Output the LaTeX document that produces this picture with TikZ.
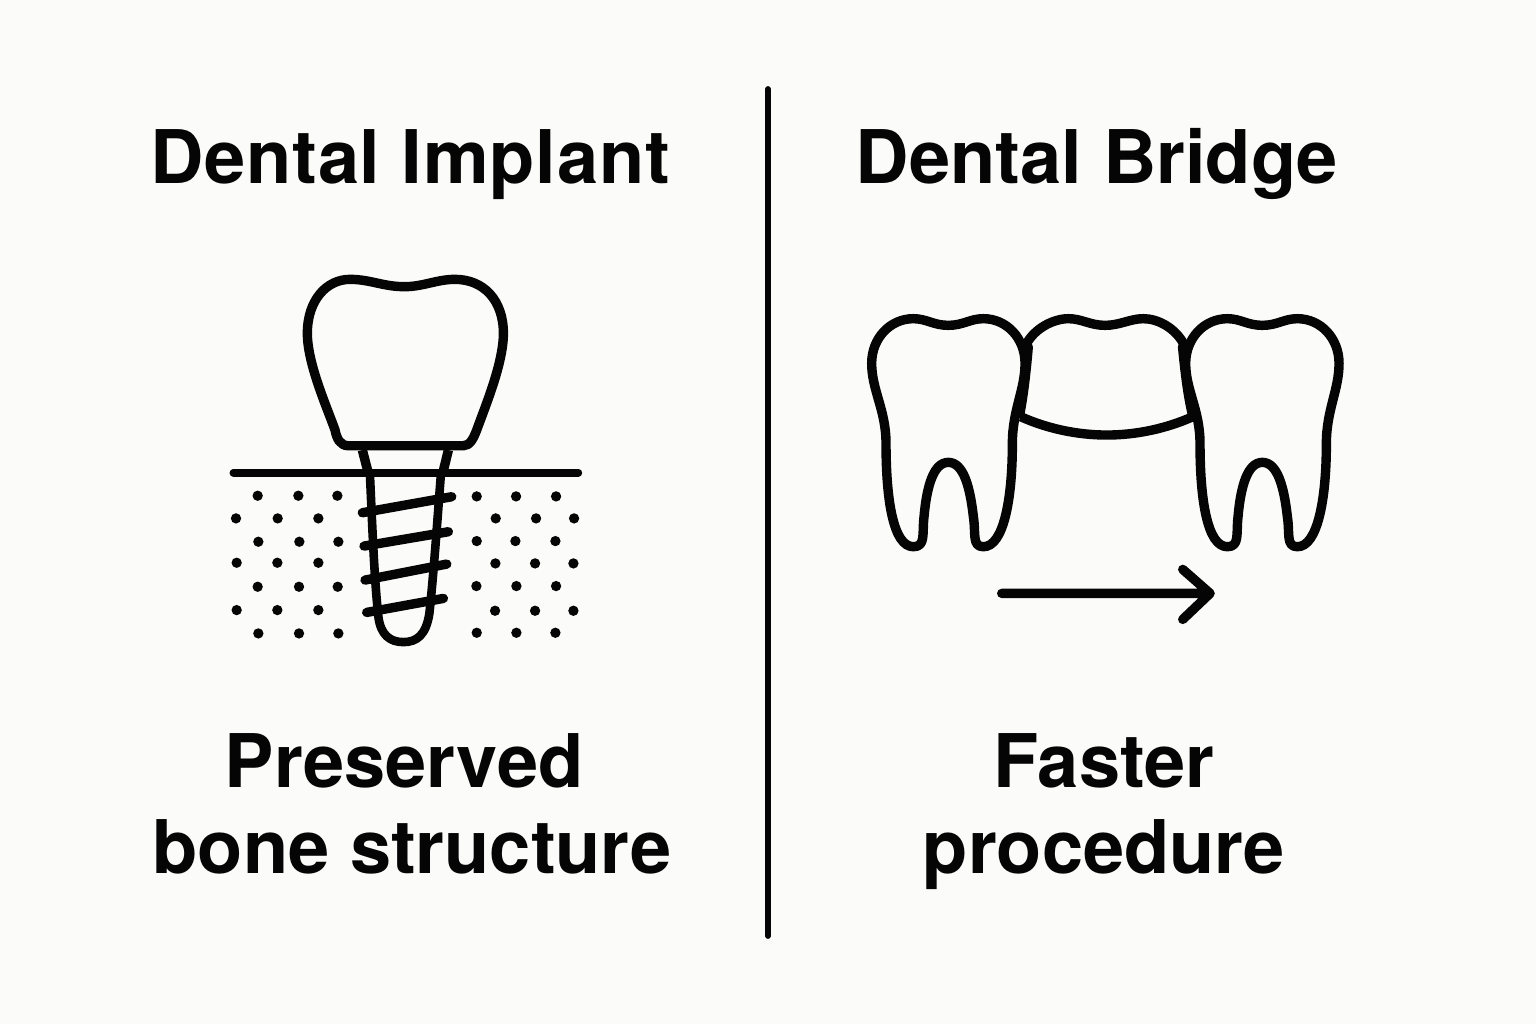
\documentclass[tikz,border=0pt]{standalone}
\usepackage{fontspec}
\setmainfont{TeX Gyre Heros}
\definecolor{paper}{HTML}{FBFBF9}
\definecolor{ink}{HTML}{050505}
\tikzset{
 lab/.style={text=ink,font=\fontsize{37}{44}\selectfont\bfseries,anchor=base,inner sep=0pt},
 outl/.style={draw=ink,line width=4.7pt,line join=round,line cap=round},
}
\newcommand{\dotrow}[2]{\foreach \xx in {#2}{\fill[ink] (\xx,#1) circle (15.5);}}
\newcommand{\toothpath}{(190,56) .. controls (230,56) and (250,76) .. (295,76) .. controls (340,76) and (360,56) .. (400,56) .. controls (470,56) and (525,115) .. (525,190) .. controls (525,270) and (487,330) .. (487,430) .. controls (487,600) and (460,740) .. (400,740) .. controls (365,740) and (378,700) .. (370,650) .. controls (360,560) and (340,487) .. (295,487) .. controls (250,487) and (230,560) .. (222,650) .. controls (216,700) and (228,740) .. (190,740) .. controls (130,740) and (108,600) .. (108,430) .. controls (108,330) and (65,270) .. (65,190) .. controls (65,115) and (120,56) .. (190,56) -- cycle}
\begin{document}
\begin{tikzpicture}[x=0.5pt,y=-0.5pt]
\useasboundingbox (0,0) rectangle (1536,1024);
\fill[paper] (0,0) rectangle (1536,1024);
\coordinate (divT) at (768,89);
\coordinate (divB) at (768,936);
\draw[ink,line width=2.9pt,line cap=round] (divT) -- (divB);
\node[lab] (t1) at (410,183) {\addfontfeature{LetterSpace=1}Dental Implant};
\node[lab] (t2) at (1097,183) {Dental Bridge};
\node[lab] (c1) at (404,787) {Preserved};
\node[lab] (c1b) at (412,873) {bone structure};
\node[lab] (c2) at (1104,787) {Faster};
\node[lab] (c2b) at (1104,873) {procedure};
% implant
\begin{scope}[shift={(220,260)},x=0.1667pt,y=-0.1667pt]
\draw[outl] (553,557) -- (385,557) .. controls (360,557) and (350,535) .. (345,510) .. controls (320,440) and (262,310) .. (262,220) .. controls (262,120) and (320,58) .. (390,58) .. controls (450,58) and (490,80) .. (553,80) .. controls (610,80) and (650,58) .. (705,58) .. controls (790,58) and (850,120) .. (850,220) .. controls (850,310) and (795,440) .. (770,510) .. controls (760,535) and (750,557) .. (730,557) -- cycle;
\draw[outl,line cap=butt] (427,570) -- (445,640);
\draw[outl,line cap=butt] (685,570) -- (668,640);
\draw[ink,line width=3.8pt,line cap=round] (40,638) -- (1075,638);
\draw[outl,line width=4.3pt] (450,650) .. controls (456,780) and (462,950) .. (475,1070) .. controls (482,1125) and (510,1146) .. (550,1146) .. controls (590,1146) and (618,1125) .. (628,1060) .. controls (640,950) and (652,780) .. (662,650);
\draw[outl,line width=4.7pt] (427,758) -- (695,710);
\draw[outl,line width=4.7pt] (432,858) -- (685,815);
\draw[outl,line width=4.7pt] (435,960) -- (680,912);
\draw[outl,line width=4.7pt] (440,1057) -- (670,1015);
\dotrow{707}{113,235,352}
\dotrow{775}{48,173,295}
\dotrow{845}{115,238,355}
\dotrow{908}{50,172,295}
\dotrow{980}{113,237,353}
\dotrow{1050}{50,172,295}
\dotrow{1120}{115,237,355}
\dotrow{709}{770,888,1008}
\dotrow{775}{827,948,1062}
\dotrow{843}{770,886,1006}
\dotrow{910}{826,945,1060}
\dotrow{978}{769,889,1008}
\dotrow{1052}{825,945,1060}
\dotrow{1118}{770,889,1006}
\end{scope}
% bridge
\begin{scope}[shift={(850,300)},x=0.1667pt,y=-0.1667pt]
\draw[outl] \toothpath;
\begin{scope}[xshift=157pt]
\draw[outl] \toothpath;
\end{scope}
\draw[outl] (530,130) .. controls (555,85) and (610,56) .. (655,56) .. controls (695,56) and (720,76) .. (765,76) .. controls (810,76) and (840,56) .. (880,56) .. controls (925,56) and (975,85) .. (1000,130);
\draw[outl,line width=3.6pt] (538,140) .. controls (533,200) and (525,280) .. (512,345);
\draw[outl,line width=3.6pt] (994,140) .. controls (1000,200) and (1008,280) .. (1024,345);
\draw[outl,line cap=butt] (512,350) .. controls (590,385) and (680,405) .. (770,405) .. controls (860,405) and (950,385) .. (1028,350);
\coordinate (aS) at (455,880);
\coordinate (aE) at (1080,880);
\coordinate (aU) at (998,808);
\coordinate (aD) at (998,958);
\draw[outl] (aS) -- (aE) (aU) -- (aE) -- (aD);
\end{scope}
\end{tikzpicture}
\end{document}
